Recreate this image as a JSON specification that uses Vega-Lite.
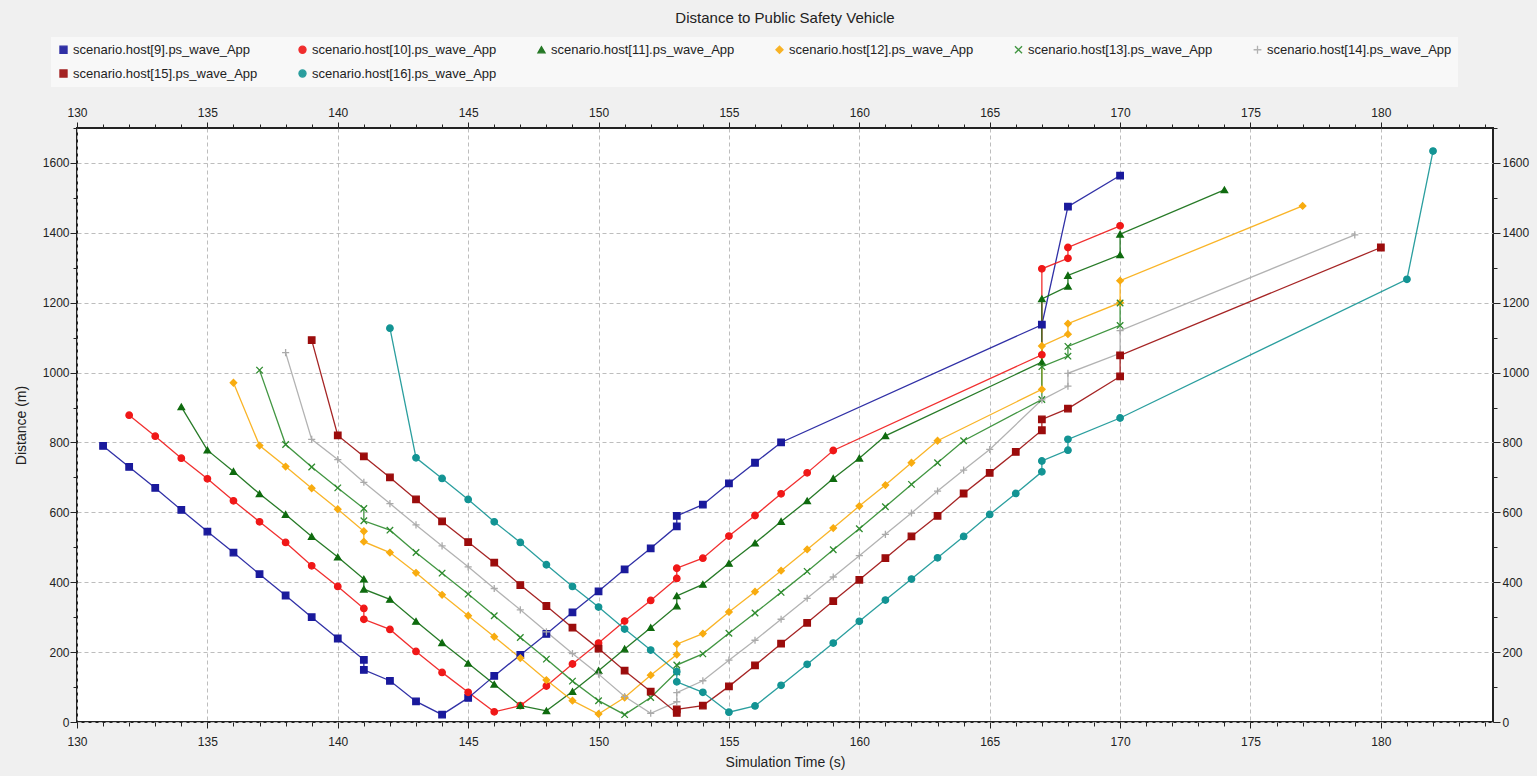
{
"$schema": "https://vega.github.io/schema/vega-lite/v6.json",
"width": 1416, "height": 594,
"autosize": {"type": "none"},
"padding": {"left": 77, "top": 128, "right": 44, "bottom": 54},
"background": "#f0f0f0",
"title": {"text": "Distance to Public Safety Vehicle", "fontSize": 15, "fontWeight": "normal", "font": "Liberation Sans", "color": "#222", "anchor": "middle", "offset": 11},
"config": {
  "font": "Liberation Sans",
  "view": {"fill": "white", "stroke": "#222", "strokeWidth": 2},
  "legend": {"orient": "none", "legendX": -26, "legendY": -91, "columns": 6, "direction": "horizontal", "labelFontSize": 13, "labelColor": "#222", "labelLimit": 400, "labelOffset": 3, "symbolSize": 50, "symbolStrokeWidth": 1.3, "columnPadding": 38, "rowPadding": 10, "fillColor": "#f8f8f8", "padding": 6}
},
"data": {"values": [
{"s":"scenario.host[9].ps_wave_App","t":131,"d":790},{"s":"scenario.host[9].ps_wave_App","t":132,"d":730},{"s":"scenario.host[9].ps_wave_App","t":133,"d":670},{"s":"scenario.host[9].ps_wave_App","t":134,"d":607},{"s":"scenario.host[9].ps_wave_App","t":135,"d":545},{"s":"scenario.host[9].ps_wave_App","t":136,"d":485},{"s":"scenario.host[9].ps_wave_App","t":137,"d":423},{"s":"scenario.host[9].ps_wave_App","t":138,"d":362},{"s":"scenario.host[9].ps_wave_App","t":139,"d":300},{"s":"scenario.host[9].ps_wave_App","t":140,"d":239},{"s":"scenario.host[9].ps_wave_App","t":141,"d":178},{"s":"scenario.host[9].ps_wave_App","t":141,"d":149},{"s":"scenario.host[9].ps_wave_App","t":142,"d":118},{"s":"scenario.host[9].ps_wave_App","t":143,"d":59},{"s":"scenario.host[9].ps_wave_App","t":144,"d":21},{"s":"scenario.host[9].ps_wave_App","t":145,"d":69},{"s":"scenario.host[9].ps_wave_App","t":146,"d":132},{"s":"scenario.host[9].ps_wave_App","t":147,"d":192},{"s":"scenario.host[9].ps_wave_App","t":148,"d":252},{"s":"scenario.host[9].ps_wave_App","t":149,"d":314},{"s":"scenario.host[9].ps_wave_App","t":150,"d":374},{"s":"scenario.host[9].ps_wave_App","t":151,"d":437},{"s":"scenario.host[9].ps_wave_App","t":152,"d":497},{"s":"scenario.host[9].ps_wave_App","t":153,"d":560},{"s":"scenario.host[9].ps_wave_App","t":153,"d":590},{"s":"scenario.host[9].ps_wave_App","t":154,"d":622},{"s":"scenario.host[9].ps_wave_App","t":155,"d":683},{"s":"scenario.host[9].ps_wave_App","t":156,"d":742},{"s":"scenario.host[9].ps_wave_App","t":157,"d":800},{"s":"scenario.host[9].ps_wave_App","t":167,"d":1137},{"s":"scenario.host[9].ps_wave_App","t":168,"d":1475},{"s":"scenario.host[9].ps_wave_App","t":170,"d":1564},
{"s":"scenario.host[10].ps_wave_App","t":132,"d":878},{"s":"scenario.host[10].ps_wave_App","t":133,"d":818},{"s":"scenario.host[10].ps_wave_App","t":134,"d":755},{"s":"scenario.host[10].ps_wave_App","t":135,"d":696},{"s":"scenario.host[10].ps_wave_App","t":136,"d":633},{"s":"scenario.host[10].ps_wave_App","t":137,"d":573},{"s":"scenario.host[10].ps_wave_App","t":138,"d":514},{"s":"scenario.host[10].ps_wave_App","t":139,"d":447},{"s":"scenario.host[10].ps_wave_App","t":140,"d":388},{"s":"scenario.host[10].ps_wave_App","t":141,"d":325},{"s":"scenario.host[10].ps_wave_App","t":141,"d":294},{"s":"scenario.host[10].ps_wave_App","t":142,"d":265},{"s":"scenario.host[10].ps_wave_App","t":143,"d":202},{"s":"scenario.host[10].ps_wave_App","t":144,"d":142},{"s":"scenario.host[10].ps_wave_App","t":145,"d":85},{"s":"scenario.host[10].ps_wave_App","t":146,"d":29},{"s":"scenario.host[10].ps_wave_App","t":147,"d":47},{"s":"scenario.host[10].ps_wave_App","t":148,"d":103},{"s":"scenario.host[10].ps_wave_App","t":149,"d":166},{"s":"scenario.host[10].ps_wave_App","t":150,"d":226},{"s":"scenario.host[10].ps_wave_App","t":151,"d":289},{"s":"scenario.host[10].ps_wave_App","t":152,"d":348},{"s":"scenario.host[10].ps_wave_App","t":153,"d":411},{"s":"scenario.host[10].ps_wave_App","t":153,"d":440},{"s":"scenario.host[10].ps_wave_App","t":154,"d":469},{"s":"scenario.host[10].ps_wave_App","t":155,"d":532},{"s":"scenario.host[10].ps_wave_App","t":156,"d":591},{"s":"scenario.host[10].ps_wave_App","t":157,"d":653},{"s":"scenario.host[10].ps_wave_App","t":158,"d":713},{"s":"scenario.host[10].ps_wave_App","t":159,"d":777},{"s":"scenario.host[10].ps_wave_App","t":167,"d":1051},{"s":"scenario.host[10].ps_wave_App","t":167,"d":1297},{"s":"scenario.host[10].ps_wave_App","t":168,"d":1327},{"s":"scenario.host[10].ps_wave_App","t":168,"d":1358},{"s":"scenario.host[10].ps_wave_App","t":170,"d":1420},
{"s":"scenario.host[11].ps_wave_App","t":134,"d":902},{"s":"scenario.host[11].ps_wave_App","t":135,"d":778},{"s":"scenario.host[11].ps_wave_App","t":136,"d":717},{"s":"scenario.host[11].ps_wave_App","t":137,"d":653},{"s":"scenario.host[11].ps_wave_App","t":138,"d":594},{"s":"scenario.host[11].ps_wave_App","t":139,"d":531},{"s":"scenario.host[11].ps_wave_App","t":140,"d":472},{"s":"scenario.host[11].ps_wave_App","t":141,"d":409},{"s":"scenario.host[11].ps_wave_App","t":141,"d":380},{"s":"scenario.host[11].ps_wave_App","t":142,"d":351},{"s":"scenario.host[11].ps_wave_App","t":143,"d":288},{"s":"scenario.host[11].ps_wave_App","t":144,"d":227},{"s":"scenario.host[11].ps_wave_App","t":145,"d":168},{"s":"scenario.host[11].ps_wave_App","t":146,"d":108},{"s":"scenario.host[11].ps_wave_App","t":147,"d":47},{"s":"scenario.host[11].ps_wave_App","t":148,"d":32},{"s":"scenario.host[11].ps_wave_App","t":149,"d":87},{"s":"scenario.host[11].ps_wave_App","t":150,"d":147},{"s":"scenario.host[11].ps_wave_App","t":151,"d":209},{"s":"scenario.host[11].ps_wave_App","t":152,"d":270},{"s":"scenario.host[11].ps_wave_App","t":153,"d":332},{"s":"scenario.host[11].ps_wave_App","t":153,"d":361},{"s":"scenario.host[11].ps_wave_App","t":154,"d":394},{"s":"scenario.host[11].ps_wave_App","t":155,"d":454},{"s":"scenario.host[11].ps_wave_App","t":156,"d":512},{"s":"scenario.host[11].ps_wave_App","t":157,"d":574},{"s":"scenario.host[11].ps_wave_App","t":158,"d":633},{"s":"scenario.host[11].ps_wave_App","t":159,"d":697},{"s":"scenario.host[11].ps_wave_App","t":160,"d":755},{"s":"scenario.host[11].ps_wave_App","t":161,"d":819},{"s":"scenario.host[11].ps_wave_App","t":167,"d":1030},{"s":"scenario.host[11].ps_wave_App","t":167,"d":1211},{"s":"scenario.host[11].ps_wave_App","t":168,"d":1247},{"s":"scenario.host[11].ps_wave_App","t":168,"d":1278},{"s":"scenario.host[11].ps_wave_App","t":170,"d":1337},{"s":"scenario.host[11].ps_wave_App","t":170,"d":1396},{"s":"scenario.host[11].ps_wave_App","t":174,"d":1523},
{"s":"scenario.host[12].ps_wave_App","t":136,"d":971},{"s":"scenario.host[12].ps_wave_App","t":137,"d":791},{"s":"scenario.host[12].ps_wave_App","t":138,"d":731},{"s":"scenario.host[12].ps_wave_App","t":139,"d":669},{"s":"scenario.host[12].ps_wave_App","t":140,"d":609},{"s":"scenario.host[12].ps_wave_App","t":141,"d":546},{"s":"scenario.host[12].ps_wave_App","t":141,"d":516},{"s":"scenario.host[12].ps_wave_App","t":142,"d":485},{"s":"scenario.host[12].ps_wave_App","t":143,"d":427},{"s":"scenario.host[12].ps_wave_App","t":144,"d":364},{"s":"scenario.host[12].ps_wave_App","t":145,"d":304},{"s":"scenario.host[12].ps_wave_App","t":146,"d":244},{"s":"scenario.host[12].ps_wave_App","t":147,"d":183},{"s":"scenario.host[12].ps_wave_App","t":148,"d":120},{"s":"scenario.host[12].ps_wave_App","t":149,"d":61},{"s":"scenario.host[12].ps_wave_App","t":150,"d":23},{"s":"scenario.host[12].ps_wave_App","t":151,"d":70},{"s":"scenario.host[12].ps_wave_App","t":152,"d":134},{"s":"scenario.host[12].ps_wave_App","t":153,"d":193},{"s":"scenario.host[12].ps_wave_App","t":153,"d":223},{"s":"scenario.host[12].ps_wave_App","t":154,"d":253},{"s":"scenario.host[12].ps_wave_App","t":155,"d":315},{"s":"scenario.host[12].ps_wave_App","t":156,"d":373},{"s":"scenario.host[12].ps_wave_App","t":157,"d":433},{"s":"scenario.host[12].ps_wave_App","t":158,"d":494},{"s":"scenario.host[12].ps_wave_App","t":159,"d":555},{"s":"scenario.host[12].ps_wave_App","t":160,"d":618},{"s":"scenario.host[12].ps_wave_App","t":161,"d":678},{"s":"scenario.host[12].ps_wave_App","t":162,"d":742},{"s":"scenario.host[12].ps_wave_App","t":163,"d":805},{"s":"scenario.host[12].ps_wave_App","t":167,"d":952},{"s":"scenario.host[12].ps_wave_App","t":167,"d":1076},{"s":"scenario.host[12].ps_wave_App","t":168,"d":1110},{"s":"scenario.host[12].ps_wave_App","t":168,"d":1140},{"s":"scenario.host[12].ps_wave_App","t":170,"d":1200},{"s":"scenario.host[12].ps_wave_App","t":170,"d":1263},{"s":"scenario.host[12].ps_wave_App","t":177,"d":1477},
{"s":"scenario.host[13].ps_wave_App","t":137,"d":1007},{"s":"scenario.host[13].ps_wave_App","t":138,"d":794},{"s":"scenario.host[13].ps_wave_App","t":139,"d":730},{"s":"scenario.host[13].ps_wave_App","t":140,"d":670},{"s":"scenario.host[13].ps_wave_App","t":141,"d":611},{"s":"scenario.host[13].ps_wave_App","t":141,"d":576},{"s":"scenario.host[13].ps_wave_App","t":142,"d":549},{"s":"scenario.host[13].ps_wave_App","t":143,"d":485},{"s":"scenario.host[13].ps_wave_App","t":144,"d":426},{"s":"scenario.host[13].ps_wave_App","t":145,"d":366},{"s":"scenario.host[13].ps_wave_App","t":146,"d":304},{"s":"scenario.host[13].ps_wave_App","t":147,"d":242},{"s":"scenario.host[13].ps_wave_App","t":148,"d":180},{"s":"scenario.host[13].ps_wave_App","t":149,"d":117},{"s":"scenario.host[13].ps_wave_App","t":150,"d":61},{"s":"scenario.host[13].ps_wave_App","t":151,"d":21},{"s":"scenario.host[13].ps_wave_App","t":152,"d":70},{"s":"scenario.host[13].ps_wave_App","t":153,"d":143},{"s":"scenario.host[13].ps_wave_App","t":153,"d":163},{"s":"scenario.host[13].ps_wave_App","t":154,"d":195},{"s":"scenario.host[13].ps_wave_App","t":155,"d":254},{"s":"scenario.host[13].ps_wave_App","t":156,"d":312},{"s":"scenario.host[13].ps_wave_App","t":157,"d":371},{"s":"scenario.host[13].ps_wave_App","t":158,"d":431},{"s":"scenario.host[13].ps_wave_App","t":159,"d":493},{"s":"scenario.host[13].ps_wave_App","t":160,"d":553},{"s":"scenario.host[13].ps_wave_App","t":161,"d":616},{"s":"scenario.host[13].ps_wave_App","t":162,"d":680},{"s":"scenario.host[13].ps_wave_App","t":163,"d":742},{"s":"scenario.host[13].ps_wave_App","t":164,"d":805},{"s":"scenario.host[13].ps_wave_App","t":167,"d":923},{"s":"scenario.host[13].ps_wave_App","t":167,"d":1017},{"s":"scenario.host[13].ps_wave_App","t":168,"d":1047},{"s":"scenario.host[13].ps_wave_App","t":168,"d":1075},{"s":"scenario.host[13].ps_wave_App","t":170,"d":1135},{"s":"scenario.host[13].ps_wave_App","t":170,"d":1199},
{"s":"scenario.host[14].ps_wave_App","t":138,"d":1057},{"s":"scenario.host[14].ps_wave_App","t":139,"d":809},{"s":"scenario.host[14].ps_wave_App","t":140,"d":751},{"s":"scenario.host[14].ps_wave_App","t":141,"d":686},{"s":"scenario.host[14].ps_wave_App","t":142,"d":625},{"s":"scenario.host[14].ps_wave_App","t":143,"d":564},{"s":"scenario.host[14].ps_wave_App","t":144,"d":504},{"s":"scenario.host[14].ps_wave_App","t":145,"d":444},{"s":"scenario.host[14].ps_wave_App","t":146,"d":382},{"s":"scenario.host[14].ps_wave_App","t":147,"d":321},{"s":"scenario.host[14].ps_wave_App","t":148,"d":258},{"s":"scenario.host[14].ps_wave_App","t":149,"d":196},{"s":"scenario.host[14].ps_wave_App","t":150,"d":137},{"s":"scenario.host[14].ps_wave_App","t":151,"d":73},{"s":"scenario.host[14].ps_wave_App","t":152,"d":25},{"s":"scenario.host[14].ps_wave_App","t":153,"d":58},{"s":"scenario.host[14].ps_wave_App","t":153,"d":84},{"s":"scenario.host[14].ps_wave_App","t":154,"d":118},{"s":"scenario.host[14].ps_wave_App","t":155,"d":177},{"s":"scenario.host[14].ps_wave_App","t":156,"d":234},{"s":"scenario.host[14].ps_wave_App","t":157,"d":294},{"s":"scenario.host[14].ps_wave_App","t":158,"d":354},{"s":"scenario.host[14].ps_wave_App","t":159,"d":415},{"s":"scenario.host[14].ps_wave_App","t":160,"d":476},{"s":"scenario.host[14].ps_wave_App","t":161,"d":537},{"s":"scenario.host[14].ps_wave_App","t":162,"d":598},{"s":"scenario.host[14].ps_wave_App","t":163,"d":661},{"s":"scenario.host[14].ps_wave_App","t":164,"d":721},{"s":"scenario.host[14].ps_wave_App","t":165,"d":780},{"s":"scenario.host[14].ps_wave_App","t":167,"d":922},{"s":"scenario.host[14].ps_wave_App","t":168,"d":961},{"s":"scenario.host[14].ps_wave_App","t":168,"d":998},{"s":"scenario.host[14].ps_wave_App","t":170,"d":1055},{"s":"scenario.host[14].ps_wave_App","t":170,"d":1120},{"s":"scenario.host[14].ps_wave_App","t":179,"d":1394},
{"s":"scenario.host[15].ps_wave_App","t":139,"d":1093},{"s":"scenario.host[15].ps_wave_App","t":140,"d":820},{"s":"scenario.host[15].ps_wave_App","t":141,"d":760},{"s":"scenario.host[15].ps_wave_App","t":142,"d":700},{"s":"scenario.host[15].ps_wave_App","t":143,"d":637},{"s":"scenario.host[15].ps_wave_App","t":144,"d":574},{"s":"scenario.host[15].ps_wave_App","t":145,"d":515},{"s":"scenario.host[15].ps_wave_App","t":146,"d":456},{"s":"scenario.host[15].ps_wave_App","t":147,"d":392},{"s":"scenario.host[15].ps_wave_App","t":148,"d":332},{"s":"scenario.host[15].ps_wave_App","t":149,"d":270},{"s":"scenario.host[15].ps_wave_App","t":150,"d":210},{"s":"scenario.host[15].ps_wave_App","t":151,"d":147},{"s":"scenario.host[15].ps_wave_App","t":152,"d":87},{"s":"scenario.host[15].ps_wave_App","t":153,"d":26},{"s":"scenario.host[15].ps_wave_App","t":153,"d":36},{"s":"scenario.host[15].ps_wave_App","t":154,"d":47},{"s":"scenario.host[15].ps_wave_App","t":155,"d":102},{"s":"scenario.host[15].ps_wave_App","t":156,"d":162},{"s":"scenario.host[15].ps_wave_App","t":157,"d":224},{"s":"scenario.host[15].ps_wave_App","t":158,"d":284},{"s":"scenario.host[15].ps_wave_App","t":159,"d":346},{"s":"scenario.host[15].ps_wave_App","t":160,"d":407},{"s":"scenario.host[15].ps_wave_App","t":161,"d":469},{"s":"scenario.host[15].ps_wave_App","t":162,"d":531},{"s":"scenario.host[15].ps_wave_App","t":163,"d":590},{"s":"scenario.host[15].ps_wave_App","t":164,"d":654},{"s":"scenario.host[15].ps_wave_App","t":165,"d":713},{"s":"scenario.host[15].ps_wave_App","t":166,"d":773},{"s":"scenario.host[15].ps_wave_App","t":167,"d":835},{"s":"scenario.host[15].ps_wave_App","t":167,"d":866},{"s":"scenario.host[15].ps_wave_App","t":168,"d":897},{"s":"scenario.host[15].ps_wave_App","t":170,"d":989},{"s":"scenario.host[15].ps_wave_App","t":170,"d":1049},{"s":"scenario.host[15].ps_wave_App","t":180,"d":1358},
{"s":"scenario.host[16].ps_wave_App","t":142,"d":1127},{"s":"scenario.host[16].ps_wave_App","t":143,"d":756},{"s":"scenario.host[16].ps_wave_App","t":144,"d":697},{"s":"scenario.host[16].ps_wave_App","t":145,"d":637},{"s":"scenario.host[16].ps_wave_App","t":146,"d":573},{"s":"scenario.host[16].ps_wave_App","t":147,"d":514},{"s":"scenario.host[16].ps_wave_App","t":148,"d":450},{"s":"scenario.host[16].ps_wave_App","t":149,"d":388},{"s":"scenario.host[16].ps_wave_App","t":150,"d":329},{"s":"scenario.host[16].ps_wave_App","t":151,"d":266},{"s":"scenario.host[16].ps_wave_App","t":152,"d":206},{"s":"scenario.host[16].ps_wave_App","t":153,"d":144},{"s":"scenario.host[16].ps_wave_App","t":153,"d":115},{"s":"scenario.host[16].ps_wave_App","t":154,"d":85},{"s":"scenario.host[16].ps_wave_App","t":155,"d":28},{"s":"scenario.host[16].ps_wave_App","t":156,"d":46},{"s":"scenario.host[16].ps_wave_App","t":157,"d":105},{"s":"scenario.host[16].ps_wave_App","t":158,"d":165},{"s":"scenario.host[16].ps_wave_App","t":159,"d":226},{"s":"scenario.host[16].ps_wave_App","t":160,"d":288},{"s":"scenario.host[16].ps_wave_App","t":161,"d":349},{"s":"scenario.host[16].ps_wave_App","t":162,"d":409},{"s":"scenario.host[16].ps_wave_App","t":163,"d":470},{"s":"scenario.host[16].ps_wave_App","t":164,"d":531},{"s":"scenario.host[16].ps_wave_App","t":165,"d":594},{"s":"scenario.host[16].ps_wave_App","t":166,"d":654},{"s":"scenario.host[16].ps_wave_App","t":167,"d":716},{"s":"scenario.host[16].ps_wave_App","t":167,"d":747},{"s":"scenario.host[16].ps_wave_App","t":168,"d":778},{"s":"scenario.host[16].ps_wave_App","t":168,"d":809},{"s":"scenario.host[16].ps_wave_App","t":170,"d":870},{"s":"scenario.host[16].ps_wave_App","t":181,"d":1267},{"s":"scenario.host[16].ps_wave_App","t":182,"d":1634}
]},
"layer": [
{
  "mark": {"type": "line", "strokeWidth": 1.3, "opacity": 0.9},
  "encoding": {
    "x": {"field": "t", "type": "quantitative", "scale": {"domain": [130, 184.3], "nice": false, "zero": false},
      "axis": {"orient": "bottom", "title": "Simulation Time (s)", "titleFontSize": 14, "titleFontWeight": "normal", "titleColor": "#222", "titlePadding": 8,
        "values": [130,131,132,133,134,135,136,137,138,139,140,141,142,143,144,145,146,147,148,149,150,151,152,153,154,155,156,157,158,159,160,161,162,163,164,165,166,167,168,169,170,171,172,173,174,175,176,177,178,179,180,181,182,183,184],
        "format": "d", "labelExpr": "datum.value % 5 === 0 ? datum.label : ''", "labelFontSize": 12, "labelColor": "#222", "labelOverlap": false, "labelFlush": false, "labelPadding": 8,
        "tickSize": {"condition": {"test": "datum.value % 5 === 0", "value": 6}, "value": 4}, "tickColor": "#222", "domain": false,
        "grid": true, "gridDash": [4, 3], "gridColor": "#bdbdbd", "gridOpacity": {"condition": {"test": "datum.value % 5 === 0", "value": 1}, "value": 0}}},
    "y": {"field": "d", "type": "quantitative", "scale": {"domain": [0, 1700], "nice": false},
      "axis": {"orient": "left", "title": "Distance (m)", "titleFontSize": 14, "titleFontWeight": "normal", "titleColor": "#222", "titlePadding": 14,
        "values": [0,100,200,300,400,500,600,700,800,900,1000,1100,1200,1300,1400,1500,1600,1700],
        "format": "d", "labelExpr": "datum.value % 200 === 0 ? datum.label : ''", "labelFontSize": 12, "labelColor": "#222", "labelOverlap": false, "labelFlush": false, "labelPadding": 1,
        "tickSize": {"condition": {"test": "datum.value % 200 === 0", "value": 7}, "value": 4}, "tickColor": "#222", "domain": false,
        "grid": true, "gridDash": [4, 3], "gridColor": "#bdbdbd", "gridOpacity": {"condition": {"test": "datum.value % 200 === 0", "value": 1}, "value": 0}}},
    "color": {"field": "s", "type": "nominal",
      "scale": {"domain": ["scenario.host[9].ps_wave_App","scenario.host[10].ps_wave_App","scenario.host[11].ps_wave_App","scenario.host[12].ps_wave_App","scenario.host[13].ps_wave_App","scenario.host[14].ps_wave_App","scenario.host[15].ps_wave_App","scenario.host[16].ps_wave_App"],
        "range": ["#1a1a9c","#f01818","#0f6b0f","#f8ac10","#2e8b2e","#aaaaaa","#9b0c0c","#139494"]},
      "legend": {"title": null}},
    "order": {"value": null}
  }
},
{
  "mark": {"type": "point", "filled": true, "size": 42, "strokeWidth": 1.3, "opacity": 1},
  "encoding": {
    "x": {"field": "t", "type": "quantitative",
      "axis": {"orient": "top", "title": null,
        "values": [130,131,132,133,134,135,136,137,138,139,140,141,142,143,144,145,146,147,148,149,150,151,152,153,154,155,156,157,158,159,160,161,162,163,164,165,166,167,168,169,170,171,172,173,174,175,176,177,178,179,180,181,182,183,184],
        "format": "d", "labelExpr": "datum.value % 5 === 0 ? datum.label : ''", "labelFontSize": 12, "labelColor": "#222", "labelOverlap": false, "labelFlush": false, "labelPadding": 3,
        "tickSize": {"condition": {"test": "datum.value % 5 === 0", "value": 6}, "value": 4}, "tickColor": "#222", "domain": false, "grid": false}},
    "y": {"field": "d", "type": "quantitative",
      "axis": {"orient": "right", "title": null,
        "values": [0,100,200,300,400,500,600,700,800,900,1000,1100,1200,1300,1400,1500,1600,1700],
        "format": "d", "labelExpr": "datum.value % 200 === 0 ? datum.label : ''", "labelFontSize": 12, "labelColor": "#222", "labelOverlap": false, "labelFlush": false, "labelPadding": 2,
        "tickSize": {"condition": {"test": "datum.value % 200 === 0", "value": 7}, "value": 4}, "tickColor": "#222", "domain": false, "grid": false}},
    "color": {"field": "s", "type": "nominal", "legend": {"title": null}},
    "stroke": {"field": "s", "type": "nominal",
      "scale": {"domain": ["scenario.host[9].ps_wave_App","scenario.host[10].ps_wave_App","scenario.host[11].ps_wave_App","scenario.host[12].ps_wave_App","scenario.host[13].ps_wave_App","scenario.host[14].ps_wave_App","scenario.host[15].ps_wave_App","scenario.host[16].ps_wave_App"],
        "range": ["#1a1a9c","#f01818","#0f6b0f","#f8ac10","#2e8b2e","#aaaaaa","#9b0c0c","#139494"]},
      "legend": {"title": null}},
    "shape": {"field": "s", "type": "nominal",
      "scale": {"domain": ["scenario.host[9].ps_wave_App","scenario.host[10].ps_wave_App","scenario.host[11].ps_wave_App","scenario.host[12].ps_wave_App","scenario.host[13].ps_wave_App","scenario.host[14].ps_wave_App","scenario.host[15].ps_wave_App","scenario.host[16].ps_wave_App"],
        "range": ["square","circle","triangle-up","diamond","M-1,-1L1,1M-1,1L1,-1","M-1.1,0L1.1,0M0,-1.1L0,1.1","square","circle"]},
      "legend": {"title": null}}
  }
}
],
"resolve": {"axis": {"x": "independent", "y": "independent"}}
}
